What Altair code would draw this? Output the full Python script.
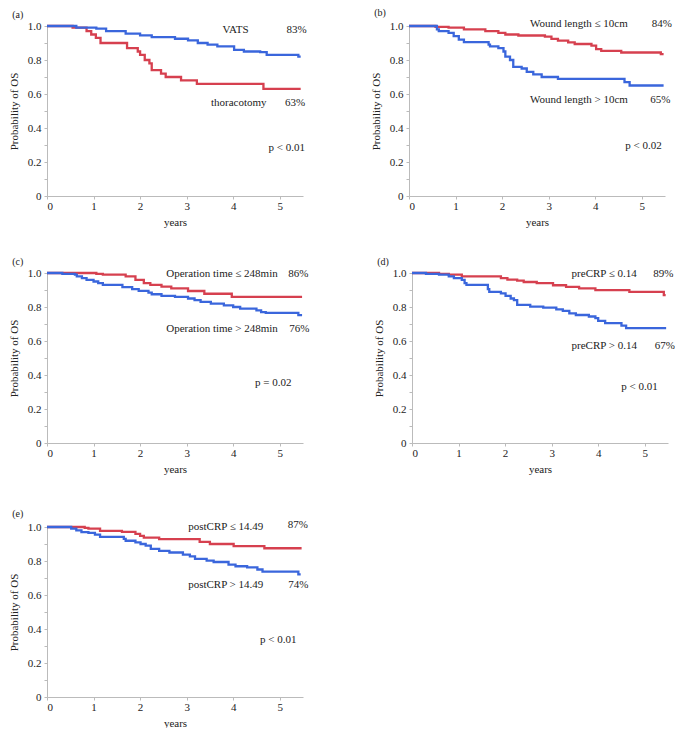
import altair as alt
import pandas as pd

RED = "#d6404f"
BLUE = "#3a66dc"
FONT = "Liberation Serif"

# ---- (a) ----
a_red_t = [0, 0.55, 0.85, 0.95, 1.05, 1.15, 1.72, 1.95, 2.0, 2.1, 2.2, 2.25, 2.45, 2.55, 2.88, 3.22, 4.65, 5.45]
a_red_s = [1.0, 0.99, 0.97, 0.95, 0.93, 0.90, 0.87, 0.85, 0.83, 0.80, 0.78, 0.74, 0.72, 0.70, 0.68, 0.66, 0.63, 0.63]
a_blue_t = [0, 0.63, 1.06, 1.27, 1.69, 2.0, 2.25, 2.75, 3.03, 3.24, 3.45, 3.66, 4.02, 4.23, 4.58, 4.72, 5.40, 5.45]
a_blue_s = [1.0, 0.99, 0.984, 0.97, 0.955, 0.945, 0.935, 0.925, 0.915, 0.90, 0.89, 0.88, 0.86, 0.85, 0.846, 0.83, 0.82, 0.82]
a_text = ["VATS", "83%", "thoracotomy", "63%", "p < 0.01"]
a_tx = [4.05, 5.36, 4.12, 5.33, 5.15]
a_ty = [0.974, 0.974, 0.55, 0.55, 0.283]

# ---- (b) ----
b_red_t = [0, 0.57, 0.85, 1.18, 1.64, 1.92, 2.07, 2.35, 2.92, 3.06, 3.2, 3.42, 3.56, 3.92, 4.02, 4.13, 4.56, 5.41, 5.47]
b_red_s = [1.0, 0.995, 0.99, 0.98, 0.97, 0.96, 0.95, 0.944, 0.938, 0.924, 0.914, 0.904, 0.894, 0.884, 0.864, 0.854, 0.844, 0.834, 0.834]
b_blue_t = [0, 0.6, 0.64, 0.85, 0.96, 1.07, 1.18, 1.71, 1.74, 1.92, 2.03, 2.07, 2.17, 2.24, 2.42, 2.53, 2.67, 2.85, 3.2, 4.63, 4.74, 5.47]
b_blue_s = [1.0, 0.98, 0.97, 0.96, 0.94, 0.92, 0.905, 0.89, 0.88, 0.87, 0.85, 0.82, 0.80, 0.76, 0.75, 0.73, 0.715, 0.70, 0.689, 0.67, 0.65, 0.65]
b_text = ["Wound length \u2264 10cm", "84%", "Wound length > 10cm", "65%", "p < 0.02"]
b_tx = [3.65, 5.43, 3.65, 5.40, 5.04]
b_ty = [1.01, 1.01, 0.565, 0.565, 0.295]

# ---- (c) ----
c_red_t = [0, 1.06, 1.2, 1.69, 1.9, 2.08, 2.22, 2.46, 2.67, 3.03, 3.38, 3.97, 5.48]
c_red_s = [1.0, 0.995, 0.99, 0.98, 0.96, 0.94, 0.93, 0.92, 0.91, 0.894, 0.878, 0.86, 0.86]
c_blue_t = [0, 0.33, 0.6, 0.64, 0.75, 0.85, 1.0, 1.1, 1.2, 1.62, 1.83, 1.97, 2.18, 2.25, 2.46, 2.75, 3.03, 3.17, 3.3, 3.52, 3.8, 4.0, 4.15, 4.5, 4.6, 4.7, 5.4, 5.48]
c_blue_s = [1.0, 0.995, 0.99, 0.98, 0.97, 0.96, 0.95, 0.94, 0.93, 0.917, 0.905, 0.895, 0.885, 0.875, 0.865, 0.86, 0.85, 0.84, 0.83, 0.82, 0.81, 0.80, 0.79, 0.78, 0.77, 0.765, 0.752, 0.752]
c_text = ["Operation time \u2264 248min", "86%", "Operation time > 248min", "76%", "p = 0.02"]
c_tx = [3.76, 5.40, 3.76, 5.42, 4.86]
c_ty = [0.996, 0.996, 0.672, 0.672, 0.353]

# ---- (d) ----
d_red_t = [0, 0.58, 0.79, 1.07, 1.91, 2.05, 2.26, 2.4, 2.68, 3.03, 3.31, 3.59, 3.94, 4.67, 5.41, 5.45]
d_red_s = [1.0, 0.995, 0.99, 0.98, 0.97, 0.961, 0.955, 0.947, 0.94, 0.928, 0.918, 0.909, 0.899, 0.889, 0.87, 0.87]
d_blue_t = [0, 0.3, 0.58, 0.79, 0.9, 1.07, 1.13, 1.17, 1.63, 1.66, 1.91, 2.01, 2.12, 2.19, 2.26, 2.54, 2.82, 3.1, 3.24, 3.38, 3.52, 3.8, 3.94, 4.0, 4.15, 4.5, 4.6, 5.46]
d_blue_s = [1.0, 0.995, 0.99, 0.98, 0.97, 0.96, 0.94, 0.93, 0.905, 0.889, 0.88, 0.865, 0.85, 0.84, 0.812, 0.802, 0.796, 0.786, 0.777, 0.763, 0.753, 0.744, 0.734, 0.718, 0.705, 0.691, 0.676, 0.676]
d_text = ["preCRP \u2264 0.14", "89%", "preCRP > 0.14", "67%", "p < 0.01"]
d_tx = [4.13, 5.40, 4.13, 5.43, 4.89]
d_ty = [0.996, 0.996, 0.569, 0.569, 0.33]

# ---- (e) ----
e_red_t = [0, 0.81, 0.89, 1.14, 1.61, 1.9, 2.0, 2.08, 2.41, 3.28, 3.5, 4.01, 4.67, 5.47]
e_red_s = [1.0, 0.995, 0.99, 0.977, 0.971, 0.96, 0.948, 0.937, 0.929, 0.913, 0.90, 0.888, 0.875, 0.875]
e_blue_t = [0, 0.52, 0.63, 0.74, 0.89, 1.03, 1.14, 1.65, 1.69, 1.9, 2.01, 2.12, 2.23, 2.41, 2.63, 2.92, 3.07, 3.18, 3.43, 3.58, 3.9, 4.05, 4.3, 4.52, 4.63, 5.4, 5.45]
e_blue_s = [1.0, 0.99, 0.98, 0.97, 0.965, 0.955, 0.942, 0.93, 0.919, 0.91, 0.90, 0.89, 0.871, 0.86, 0.85, 0.837, 0.827, 0.813, 0.802, 0.794, 0.779, 0.769, 0.763, 0.75, 0.737, 0.721, 0.721]
e_text = ["postCRP \u2264 14.49", "87%", "postCRP > 14.49", "74%", "p < 0.01"]
e_tx = [3.84, 5.39, 3.84, 5.40, 4.97]
e_ty = [1.0, 1.01, 0.658, 0.658, 0.337]

W, H = 256, 170
XMAX = 5.5


def panel(label, rt, rs, bt, bs, texts, tx, ty):
    curves = pd.DataFrame({
        "t": rt + bt,
        "s": rs + bs,
        "g": ["red"] * len(rt) + ["blue"] * len(bt),
        "o": [0] * len(rt) + [1] * len(bt),
    })
    ann = pd.DataFrame({"text": texts, "x": tx, "y": ty})
    xs = alt.Scale(domain=[0, XMAX], nice=False, zero=False)
    ys = alt.Scale(domain=[0, 1], nice=False)
    xaxis = alt.Axis(values=[i * 0.5 for i in range(12)], title="years", grid=False,
                     labelExpr="datum.value % 1 == 0 ? datum.label : ''",
                     labelOverlap=False, format="d", tickSize=3, labelPadding=1, titlePadding=5)
    yaxis = alt.Axis(values=[i / 10 for i in range(11)], title="Probability of OS", grid=False,
                     labelExpr="datum.value == 0 ? '0' : (round(datum.value*10) % 2 == 0 ? format(datum.value, '.1f') : '')",
                     labelOverlap=False, tickSize=3, labelPadding=3, titlePadding=8)
    lines = alt.Chart(curves).mark_line(interpolate="step-after", strokeWidth=2.3).encode(
        x=alt.X("t:Q", scale=xs, axis=xaxis),
        y=alt.Y("s:Q", scale=ys, axis=yaxis),
        color=alt.Color("g:N", scale=alt.Scale(domain=["red", "blue"], range=[RED, BLUE]), legend=None),
        detail="g:N",
        order="o:Q",
    )
    txt = alt.Chart(ann).mark_text(font=FONT, fontSize=11, color="#222", baseline="middle").encode(
        x=alt.X("x:Q", scale=xs, axis=xaxis),
        y=alt.Y("y:Q", scale=ys, axis=yaxis),
        text="text:N",
    )
    return alt.layer(lines, txt).properties(
        width=W, height=H,
        title=alt.TitleParams(label, anchor="start", frame="bounds", fontSize=10,
                              font=FONT, fontWeight="normal", dx=4, dy=-5, offset=-5, color="#222"),
    )


pa = panel("(a)", a_red_t, a_red_s, a_blue_t, a_blue_s, a_text, a_tx, a_ty)
pb = panel("(b)", b_red_t, b_red_s, b_blue_t, b_blue_s, b_text, b_tx, b_ty)
pc = panel("(c)", c_red_t, c_red_s, c_blue_t, c_blue_s, c_text, c_tx, c_ty)
pd_ = panel("(d)", d_red_t, d_red_s, d_blue_t, d_blue_s, d_text, d_tx, d_ty)
pe = panel("(e)", e_red_t, e_red_s, e_blue_t, e_blue_s, e_text, e_tx, e_ty)

chart = alt.vconcat(
    alt.vconcat(
        alt.hconcat(pa, pb, spacing=63),
        alt.hconcat(pc, pd_, spacing=63),
        spacing=30,
    ),
    pe,
    spacing=35,
).properties(padding=0).configure(background="white").configure_view(stroke=None).configure_axis(
    grid=False,
    domainColor="#bbbbbb",
    tickColor="#bbbbbb",
    labelFont=FONT,
    titleFont=FONT,
    labelFontSize=11,
    titleFontSize=11,
    titleFontWeight="normal",
    labelColor="#222",
    titleColor="#222",
)

chart.save("out.html", embed_options={"renderer": "svg", "actions": False})
